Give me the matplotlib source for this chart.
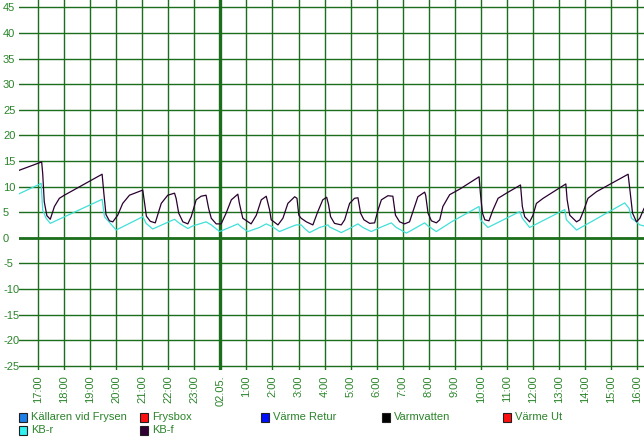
import matplotlib
matplotlib.use("Agg")
import matplotlib.pyplot as plt
from matplotlib.patches import Rectangle

plt.rcParams['font.family'] = ['Liberation Sans', 'DejaVu Sans']

# hours after 17:00 on 01.05.
kbf_t = [-0.76, 0.14, 0.18, 0.24, 0.34, 0.47, 0.63, 0.82, 1.01, 2.46, 2.53, 2.61, 2.74, 2.87,
         3.06, 3.25, 3.51, 4.02, 4.07, 4.16, 4.31, 4.50, 4.73, 4.98, 5.24, 5.30, 5.40, 5.56,
         5.75, 5.88, 6.07, 6.26, 6.45, 6.55, 6.65, 6.84, 7.03, 7.22, 7.42, 7.67, 7.73, 7.86,
         8.18, 8.38, 8.57, 8.76, 8.89, 8.95, 9.21, 9.40, 9.59, 9.85, 9.94, 10.01, 10.10, 10.30,
         10.55, 10.74, 10.93, 11.08, 11.15, 11.23, 11.38, 11.64, 11.77, 11.96, 12.15, 12.28,
         12.38, 12.51, 12.73, 12.92, 13.05, 13.18, 13.43, 13.62, 13.72, 13.88, 14.07, 14.26,
         14.39, 14.58, 14.84, 14.88, 14.97, 15.10, 15.29, 15.42, 15.54, 15.80, 16.19, 16.93,
         16.98, 17.06, 17.15, 17.31, 17.46, 17.66, 17.98, 18.52, 18.59, 18.68, 18.87, 19.00,
         19.13, 19.39, 20.26, 20.31, 20.41, 20.67, 20.80, 20.95, 21.11, 21.44, 22.65, 22.72,
         22.82, 22.97, 23.10, 23.26]
kbf_v = [13.1, 14.8, 12.5, 7.0, 4.3, 3.6, 6.1, 7.7, 8.3, 12.4, 8.5, 4.5, 3.3, 3.1,
         4.4, 6.7, 8.3, 9.3, 7.5, 4.2, 3.2, 2.9, 6.7, 8.3, 8.7, 7.7, 4.8, 3.1,
         2.7, 4.1, 7.4, 8.1, 8.3, 5.7, 3.8, 2.7, 2.7, 4.8, 7.4, 8.5, 6.7, 3.8,
         2.7, 4.4, 7.4, 8.1, 5.4, 3.5, 2.5, 3.8, 6.7, 8.0, 7.7, 4.4, 3.8, 3.1,
         2.5, 5.1, 7.4, 7.9, 6.5, 4.1, 2.8, 2.5, 3.5, 6.7, 7.7, 7.8,
         4.8, 3.5, 2.8, 2.9, 5.4, 7.4, 8.2, 8.1, 4.4, 3.1, 2.7, 3.1,
         5.1, 8.0, 8.9, 8.3, 4.8, 3.3, 2.9, 3.5, 6.1, 8.4, 9.5, 11.9,
         8.7, 4.8, 3.5, 3.3, 5.4, 7.7, 8.7, 10.3, 6.1, 4.1, 3.1, 4.4,
         6.7, 7.7, 10.5, 7.4, 4.4, 3.1, 3.5, 5.4, 7.7, 9.0, 12.4, 9.3,
         4.8, 3.1, 3.8, 5.7]

kbr_t = [-0.76, 0.12, 0.18, 0.31, 0.47, 2.46, 2.55, 3.00, 4.02, 4.15, 4.40, 5.24, 5.43, 5.75,
         5.94, 6.20, 6.45, 6.65, 6.97, 7.35, 7.67, 7.80, 8.05, 8.50, 8.76, 9.01, 9.27, 9.65,
         9.91, 10.10, 10.23, 10.42, 10.81, 11.13, 11.19, 11.64, 11.96, 12.28, 12.47, 12.79,
         13.18, 13.56, 13.75, 14.14, 14.46, 14.84, 14.97, 15.29, 15.87, 16.93, 16.98, 17.27,
         18.49, 18.59, 18.87, 20.22, 20.28, 20.67, 22.52, 22.69, 22.78, 22.97, 23.10, 23.26]
kbr_v = [8.5, 10.6, 5.4, 3.8, 2.8, 7.5, 4.1, 1.5, 4.1, 2.8, 1.7, 3.6, 2.8, 1.8,
         2.3, 2.7, 3.1, 2.5, 1.2, 2.0, 2.7, 2.1, 1.2, 2.0, 2.7, 2.1, 1.2, 2.0,
         2.5, 2.5, 1.8, 1.0, 2.0, 2.5, 2.1, 1.0, 1.8, 2.7, 2.0, 1.2,
         2.1, 2.9, 2.0, 0.9, 1.8, 2.9, 2.3, 1.2, 3.1, 6.1, 3.5, 2.0,
         5.1, 3.8, 2.0, 5.5, 3.5, 1.5, 6.8, 5.7, 3.8, 3.1, 2.5, 2.3]

hour_labels = ["17:00", "18:00", "19:00", "20:00", "21:00", "22:00", "23:00", "02.05.",
               "1:00", "2:00", "3:00", "4:00", "5:00", "6:00", "7:00", "8:00", "9:00",
               "10:00", "11:00", "12:00", "13:00", "14:00", "15:00", "16:00"]
y_ticks = [-25, -20, -15, -10, -5, 0, 5, 10, 15, 20, 25, 30, 35, 40, 45]

legend_names = ["Källaren vid Frysen", "Frysbox", "Värme Retur", "Varmvatten", "Värme Ut",
                "KB-r", "KB-f"]
legend_colors = ["#1e7fe8", "#ff1010", "#0010ff", "#000000", "#ff1010", "#30f0f0", "#330033"]

grid_c = "#1b6e1b"
text_c = "#2a842a"
W, H = 644, 443

fig = plt.figure(figsize=(W / 100, H / 100), dpi=100)
ax = fig.add_axes([19 / W, (H - 370) / H, (W - 19) / W, 370 / H])
ax.set_xlim(-0.73, 23.26)
ax.set_ylim(-25.84, 46.43)
for s in ax.spines.values():
    s.set_visible(False)

for y in y_ticks:
    ax.axhline(y, color=grid_c, lw=2.0 if y == 0 else 1.0, zorder=1)
for i in range(len(hour_labels)):
    ax.axvline(i, color=grid_c, lw=2.4 if hour_labels[i] == "02.05." else 1.0, zorder=1)

ax.plot(kbr_t, kbr_v, color="#40e0d8", lw=0.9, zorder=3)
ax.plot(kbf_t, kbf_v, color="#2a0030", lw=0.9, zorder=4)

ax.set_yticks(y_ticks)
ax.set_yticklabels([str(v) for v in y_ticks], ha="left")
ax.tick_params(axis="y", length=0, pad=11.5, labelsize=8, labelcolor=text_c)
ax.set_xticks(range(len(hour_labels)))
ax.set_xticklabels(hour_labels, rotation=90, va="top")
ax.tick_params(axis="x", length=0, pad=4, labelsize=8, labelcolor=text_c)

# legend, two rows
for i, (name, col) in enumerate(zip(legend_names, legend_colors)):
    row, c = divmod(i, 5)
    x0 = 19 + 121 * c
    yc = 417 + 13 * row
    fig.patches.append(Rectangle((x0 / W, (H - yc - 4.5) / H), 8 / W, 9 / H,
                                 transform=fig.transFigure, facecolor=col,
                                 edgecolor="#202020", lw=0.8))
    fig.text((x0 + 12) / W, (H - yc) / H, name, color=text_c, fontsize=8,
             va="center", ha="left")

fig.savefig("out.png", dpi=100)
